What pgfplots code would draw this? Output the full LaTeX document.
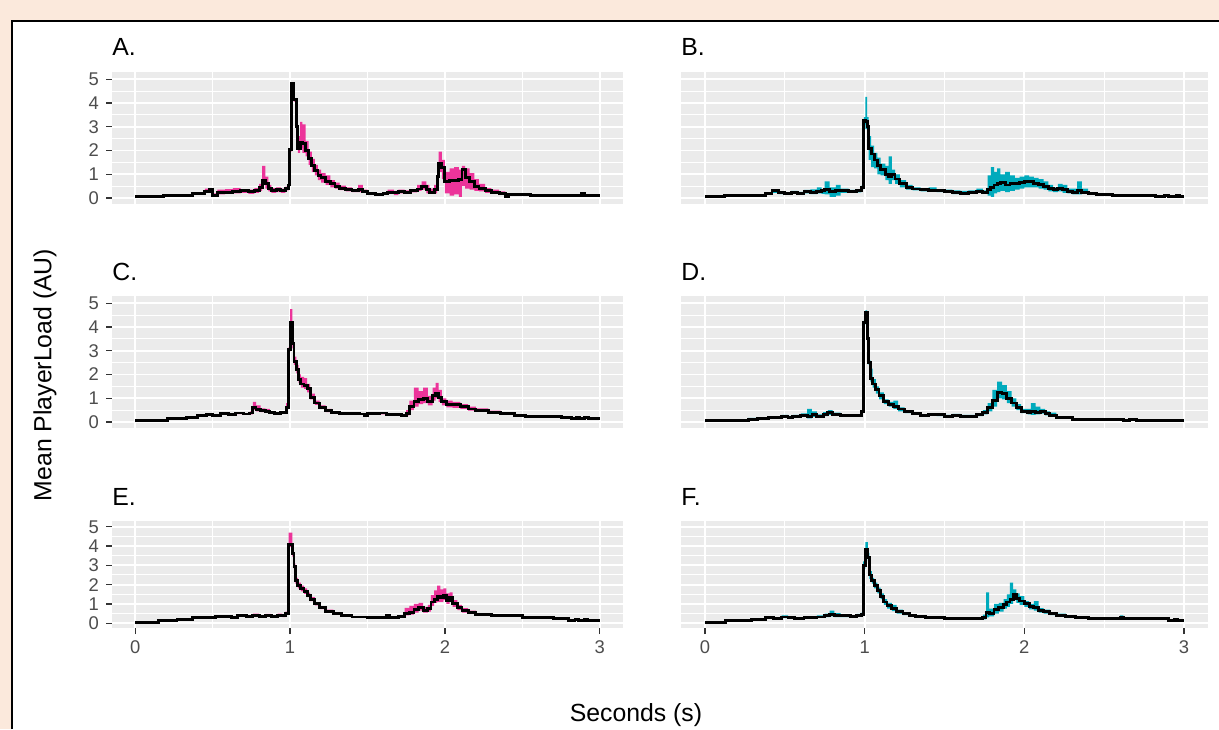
\documentclass[border=0pt]{standalone}
\usepackage{pgfplots}
\pgfplotsset{compat=1.18}
\usepackage{pgfplotstable}
\usepackage{fontspec}
\setmainfont{Liberation Sans}

\definecolor{pagebg}{RGB}{251,233,220}
\definecolor{panelbg}{RGB}{235,235,235}
\definecolor{pinkrib}{RGB}{236,52,154}
\definecolor{cyanrib}{RGB}{0,170,188}
\definecolor{ticktxt}{RGB}{77,77,77}
\definecolor{tickcol}{RGB}{51,51,51}

% x = seconds, m = mean PlayerLoad, lo/hi = ribbon
\pgfplotstableread{
x m lo hi
0.00 0.05 0.04 0.06
0.18 0.12 0.10 0.13
0.37 0.20 0.17 0.22
0.45 0.28 0.22 0.40
0.48 0.35 0.28 0.42
0.50 0.12 0.08 0.20
0.53 0.22 0.15 0.35
0.58 0.25 0.18 0.38
0.63 0.28 0.20 0.42
0.68 0.30 0.22 0.38
0.73 0.26 0.18 0.35
0.77 0.30 0.22 0.42
0.80 0.45 0.30 0.60
0.82 0.72 0.55 1.35
0.84 0.60 0.40 0.90
0.86 0.40 0.28 0.55
0.88 0.30 0.22 0.42
0.91 0.35 0.25 0.45
0.94 0.30 0.22 0.40
0.97 0.40 0.32 0.48
0.99 0.55 0.45 0.65
0.995 2.05 1.95 2.10
1.01 4.80 4.70 4.85
1.025 4.15 4.05 4.20
1.04 3.00 2.90 3.20
1.05 2.10 1.90 2.60
1.065 2.35 2.10 3.20
1.08 2.30 1.90 3.10
1.10 2.00 1.75 2.40
1.12 1.65 1.40 1.95
1.14 1.35 1.10 1.65
1.16 1.15 0.95 1.40
1.18 0.95 0.75 1.20
1.20 0.85 0.65 1.05
1.23 0.70 0.55 0.95
1.26 0.60 0.45 0.75
1.29 0.50 0.40 0.65
1.32 0.42 0.33 0.52
1.36 0.35 0.28 0.45
1.40 0.30 0.25 0.38
1.44 0.35 0.25 0.55
1.47 0.28 0.22 0.35
1.50 0.20 0.15 0.25
1.55 0.15 0.12 0.18
1.60 0.18 0.14 0.22
1.63 0.25 0.18 0.35
1.67 0.22 0.12 0.30
1.70 0.28 0.20 0.35
1.74 0.25 0.18 0.32
1.78 0.30 0.24 0.38
1.82 0.38 0.30 0.55
1.85 0.48 0.35 0.70
1.88 0.35 0.20 0.55
1.90 0.25 0.18 0.40
1.93 0.35 0.20 0.55
1.95 0.90 0.60 1.20
1.96 1.45 1.10 1.95
1.98 1.30 0.80 1.60
2.00 0.70 0.20 1.10
2.03 0.72 0.10 1.25
2.06 0.75 0.15 1.30
2.09 0.78 0.05 1.20
2.11 1.20 0.50 1.35
2.13 0.85 0.40 1.25
2.16 0.70 0.35 1.05
2.19 0.50 0.30 0.80
2.22 0.40 0.28 0.60
2.26 0.30 0.22 0.42
2.30 0.25 0.18 0.35
2.35 0.20 0.15 0.28
2.39 0.08 0.05 0.12
2.41 0.15 0.12 0.18
2.55 0.10 0.08 0.12
2.88 0.20 0.15 0.22
2.90 0.10 0.08 0.12
3.00 0.10 0.08 0.12
}\dataA

\pgfplotstableread{
x m lo hi
0.00 0.05 0.04 0.06
0.12 0.12 0.10 0.13
0.38 0.20 0.16 0.24
0.42 0.30 0.22 0.38
0.46 0.22 0.16 0.28
0.50 0.18 0.14 0.24
0.54 0.24 0.18 0.30
0.58 0.20 0.14 0.26
0.62 0.26 0.20 0.34
0.66 0.22 0.16 0.36
0.70 0.28 0.20 0.45
0.73 0.30 0.18 0.38
0.75 0.35 0.15 0.70
0.78 0.28 0.05 0.45
0.82 0.30 0.10 0.55
0.85 0.32 0.22 0.40
0.90 0.28 0.22 0.34
0.95 0.30 0.24 0.36
0.98 0.45 0.38 0.52
0.995 3.25 3.10 3.40
1.005 3.20 2.90 4.25
1.015 3.00 2.60 3.40
1.025 2.10 1.60 2.60
1.04 1.85 1.30 2.20
1.06 1.60 1.25 1.90
1.08 1.35 1.00 1.70
1.10 1.20 0.95 1.45
1.13 1.00 0.75 1.35
1.15 0.90 0.60 1.75
1.17 1.00 0.75 1.20
1.19 0.80 0.60 1.00
1.22 0.60 0.45 0.75
1.26 0.45 0.35 0.55
1.30 0.38 0.32 0.45
1.35 0.35 0.28 0.42
1.40 0.33 0.27 0.45
1.45 0.30 0.25 0.36
1.50 0.28 0.22 0.35
1.55 0.22 0.16 0.32
1.60 0.20 0.15 0.30
1.65 0.25 0.18 0.32
1.70 0.28 0.22 0.40
1.74 0.25 0.20 0.32
1.77 0.35 0.10 0.95
1.79 0.45 0.05 1.30
1.81 0.55 0.20 1.10
1.83 0.60 0.25 1.25
1.85 0.65 0.30 1.00
1.88 0.55 0.25 1.10
1.91 0.62 0.30 0.95
1.94 0.60 0.35 0.85
1.97 0.65 0.40 0.90
2.00 0.70 0.45 0.95
2.03 0.68 0.45 0.90
2.06 0.62 0.45 0.85
2.09 0.58 0.40 0.80
2.12 0.50 0.35 0.70
2.15 0.40 0.28 0.55
2.18 0.35 0.25 0.45
2.21 0.40 0.28 0.60
2.24 0.35 0.22 0.55
2.27 0.28 0.20 0.40
2.30 0.25 0.15 0.40
2.33 0.30 0.15 0.70
2.36 0.25 0.18 0.40
2.40 0.18 0.14 0.25
2.45 0.15 0.12 0.18
2.55 0.12 0.10 0.15
2.82 0.05 0.04 0.06
2.88 0.10 0.08 0.12
2.90 0.06 0.05 0.07
2.95 0.10 0.08 0.12
2.97 0.07 0.06 0.08
3.00 0.07 0.06 0.08
}\dataB

\pgfplotstableread{
x m lo hi
0.00 0.08 0.06 0.10
0.21 0.15 0.12 0.17
0.33 0.20 0.17 0.24
0.40 0.28 0.24 0.32
0.46 0.32 0.28 0.36
0.50 0.28 0.24 0.32
0.55 0.35 0.30 0.40
0.60 0.32 0.28 0.36
0.65 0.38 0.33 0.42
0.70 0.34 0.30 0.38
0.74 0.38 0.32 0.45
0.76 0.60 0.50 0.85
0.78 0.52 0.45 0.70
0.81 0.48 0.42 0.58
0.84 0.45 0.40 0.55
0.87 0.40 0.35 0.46
0.90 0.35 0.30 0.40
0.94 0.40 0.35 0.45
0.975 0.60 0.55 0.80
0.99 3.05 2.95 3.15
1.00 4.20 4.00 4.75
1.015 3.30 3.10 3.60
1.025 2.55 2.40 2.75
1.04 2.20 2.05 2.40
1.055 1.80 1.65 2.00
1.07 1.60 1.45 1.90
1.09 1.55 1.40 1.85
1.11 1.40 1.25 1.60
1.13 1.05 0.95 1.20
1.16 0.80 0.72 0.90
1.19 0.62 0.55 0.70
1.23 0.48 0.42 0.55
1.27 0.40 0.35 0.45
1.32 0.36 0.32 0.40
1.45 0.34 0.30 0.38
1.48 0.28 0.25 0.32
1.50 0.35 0.30 0.38
1.58 0.38 0.32 0.42
1.62 0.30 0.26 0.34
1.72 0.28 0.24 0.32
1.75 0.35 0.28 0.50
1.77 0.65 0.50 0.90
1.80 0.85 0.65 1.45
1.83 0.95 0.75 1.30
1.86 1.00 0.80 1.45
1.89 0.85 0.70 1.10
1.92 1.10 0.90 1.45
1.94 1.20 1.00 1.65
1.96 1.05 0.85 1.35
1.98 0.85 0.70 1.00
2.01 0.75 0.62 0.90
2.05 0.72 0.60 0.85
2.10 0.65 0.55 0.75
2.15 0.55 0.48 0.65
2.20 0.50 0.44 0.58
2.28 0.42 0.38 0.48
2.36 0.35 0.30 0.40
2.45 0.28 0.25 0.32
2.52 0.25 0.22 0.28
2.75 0.20 0.18 0.22
2.82 0.15 0.13 0.17
2.85 0.20 0.18 0.22
2.87 0.15 0.13 0.17
2.90 0.20 0.18 0.22
2.93 0.15 0.13 0.17
3.00 0.15 0.13 0.17
}\dataC

\pgfplotstableread{
x m lo hi
0.00 0.05 0.04 0.06
0.27 0.12 0.10 0.18
0.33 0.15 0.12 0.20
0.40 0.20 0.16 0.24
0.48 0.25 0.20 0.30
0.52 0.20 0.16 0.26
0.55 0.25 0.20 0.30
0.60 0.28 0.22 0.36
0.64 0.25 0.15 0.55
0.67 0.30 0.22 0.45
0.70 0.25 0.18 0.32
0.74 0.32 0.25 0.42
0.77 0.40 0.30 0.50
0.80 0.32 0.26 0.40
0.85 0.28 0.24 0.32
0.98 0.45 0.40 0.50
0.995 4.20 4.10 4.30
1.005 4.60 4.50 4.70
1.015 3.50 3.40 3.60
1.025 2.50 2.40 2.60
1.035 1.85 1.70 2.25
1.05 1.60 1.45 1.80
1.07 1.35 1.20 1.50
1.09 1.10 0.95 1.25
1.12 0.85 0.75 0.95
1.15 0.75 0.65 0.85
1.18 0.65 0.55 0.90
1.21 0.55 0.45 0.62
1.25 0.45 0.38 0.50
1.30 0.35 0.30 0.40
1.35 0.28 0.22 0.32
1.40 0.32 0.26 0.38
1.45 0.30 0.25 0.35
1.50 0.25 0.20 0.30
1.55 0.28 0.22 0.34
1.60 0.25 0.20 0.30
1.70 0.30 0.25 0.34
1.74 0.40 0.32 0.50
1.77 0.60 0.45 0.80
1.80 0.90 0.65 1.35
1.83 1.25 1.00 1.70
1.86 1.20 0.95 1.55
1.89 1.00 0.80 1.30
1.92 0.80 0.65 1.00
1.95 0.62 0.50 0.75
1.98 0.45 0.38 0.55
2.02 0.40 0.32 0.55
2.04 0.45 0.30 0.80
2.07 0.42 0.32 0.65
2.10 0.45 0.35 0.55
2.13 0.35 0.28 0.45
2.16 0.28 0.22 0.40
2.20 0.20 0.16 0.25
2.30 0.12 0.10 0.14
2.62 0.08 0.06 0.10
2.66 0.12 0.10 0.14
2.70 0.08 0.06 0.10
3.00 0.08 0.06 0.10
}\dataD

\pgfplotstableread{
x m lo hi
0.00 0.05 0.04 0.06
0.15 0.12 0.10 0.14
0.27 0.20 0.18 0.22
0.37 0.28 0.25 0.30
0.52 0.35 0.32 0.38
0.62 0.30 0.27 0.33
0.66 0.38 0.34 0.42
0.72 0.35 0.31 0.40
0.76 0.42 0.36 0.50
0.80 0.36 0.32 0.42
0.84 0.42 0.36 0.48
0.88 0.36 0.32 0.42
0.92 0.42 0.36 0.50
0.95 0.38 0.32 0.45
0.97 0.50 0.45 0.60
0.99 4.10 3.95 4.70
1.015 3.60 3.45 3.80
1.025 2.95 2.80 3.10
1.035 2.20 2.05 2.35
1.05 1.95 1.80 2.10
1.07 1.80 1.65 1.95
1.09 1.65 1.52 1.80
1.11 1.45 1.35 1.58
1.13 1.25 1.15 1.35
1.16 1.00 0.92 1.08
1.19 0.80 0.73 0.88
1.23 0.62 0.56 0.70
1.28 0.48 0.43 0.55
1.33 0.38 0.34 0.42
1.40 0.32 0.29 0.35
1.50 0.30 0.27 0.33
1.62 0.38 0.34 0.42
1.64 0.30 0.27 0.33
1.70 0.35 0.30 0.40
1.74 0.50 0.40 0.80
1.77 0.55 0.45 0.90
1.80 0.70 0.55 1.00
1.83 0.80 0.65 1.05
1.86 0.68 0.55 0.85
1.89 0.75 0.60 0.95
1.91 1.10 0.90 1.45
1.93 1.25 1.05 1.70
1.95 1.40 1.10 1.95
1.97 1.35 1.10 1.75
1.99 1.45 1.20 1.80
2.01 1.20 1.00 1.55
2.03 1.35 1.10 1.60
2.05 1.00 0.85 1.20
2.08 0.80 0.68 0.95
2.11 0.65 0.55 0.78
2.15 0.55 0.48 0.65
2.20 0.45 0.40 0.52
2.30 0.40 0.36 0.44
2.50 0.30 0.27 0.33
2.70 0.25 0.22 0.28
2.80 0.15 0.13 0.17
2.84 0.20 0.18 0.22
2.86 0.15 0.13 0.17
2.90 0.20 0.18 0.22
2.92 0.15 0.13 0.17
2.95 0.12 0.10 0.14
3.00 0.12 0.10 0.14
}\dataE

\pgfplotstableread{
x m lo hi
0.00 0.05 0.04 0.06
0.13 0.12 0.10 0.14
0.29 0.20 0.17 0.23
0.38 0.28 0.24 0.32
0.43 0.22 0.18 0.26
0.48 0.32 0.26 0.40
0.52 0.28 0.24 0.34
0.56 0.22 0.18 0.26
0.62 0.28 0.24 0.32
0.70 0.32 0.27 0.40
0.75 0.40 0.32 0.50
0.78 0.45 0.35 0.65
0.81 0.40 0.32 0.52
0.85 0.38 0.32 0.44
0.91 0.35 0.30 0.40
0.95 0.40 0.35 0.48
0.98 0.45 0.40 0.55
0.99 3.00 2.80 3.20
1.005 3.80 3.55 4.20
1.02 3.40 3.20 3.65
1.03 2.50 2.30 2.70
1.045 2.20 2.05 2.35
1.06 1.95 1.80 2.10
1.08 1.70 1.55 1.85
1.10 1.40 1.25 1.55
1.12 1.10 0.95 1.25
1.14 0.90 0.75 1.05
1.17 0.75 0.62 0.95
1.20 0.60 0.50 0.70
1.24 0.50 0.42 0.58
1.28 0.40 0.35 0.46
1.32 0.35 0.30 0.40
1.38 0.30 0.26 0.34
1.50 0.25 0.22 0.28
1.74 0.30 0.20 0.45
1.76 0.55 0.30 1.60
1.78 0.50 0.35 0.75
1.81 0.70 0.50 1.00
1.84 0.80 0.60 1.05
1.87 0.95 0.75 1.25
1.89 1.10 0.85 1.50
1.91 1.25 1.00 2.10
1.93 1.50 1.20 1.75
1.95 1.30 1.05 1.55
1.97 1.15 0.95 1.40
2.00 1.00 0.85 1.15
2.03 0.85 0.72 1.00
2.06 0.80 0.65 1.15
2.09 0.65 0.55 0.78
2.12 0.60 0.50 0.70
2.16 0.50 0.42 0.58
2.20 0.42 0.36 0.50
2.26 0.35 0.30 0.40
2.32 0.28 0.25 0.32
2.40 0.25 0.22 0.28
2.58 0.22 0.20 0.25
2.60 0.30 0.25 0.40
2.62 0.22 0.20 0.25
2.90 0.12 0.10 0.14
2.94 0.18 0.15 0.20
2.96 0.12 0.10 0.14
3.00 0.12 0.10 0.14
}\dataF

\pgfplotsset{
  panel/.style={
    scale only axis, anchor=south west,
    xmin=-0.15, xmax=3.15, ymin=-0.25, ymax=5.3,
    axis line style={draw=none},
    axis background/.style={fill=panelbg},
    xtick={0,1,2,3}, minor xtick={0.5,1.5,2.5},
    ytick={0,1,2,3,4,5}, minor ytick={0.5,1.5,2.5,3.5,4.5},
    grid=both,
    major grid style={white, line width=0.9pt},
    minor grid style={white, line width=0.5pt},
    tick pos=left,
    tick align=outside, major tick length=3pt, minor tick length=0pt,
    tick style={tickcol, line width=0.6pt},
    ticklabel style={font=\fontsize{9.2}{10}\selectfont, text=ticktxt},
    /pgf/number format/assume math mode=true,
  },
  noxt/.style={xticklabels={}, xtick style={draw=none}},
  noyt/.style={yticklabels={}, ytick style={draw=none}},
}

% ribbon as stacked band (lo, then hi-lo on top), mean line on top
\newcommand{\panelplots}[2]{%
  \addplot[draw=none, const plot, stack plots=y, forget plot] table[x=x, y=lo] {#1};
  \addplot[draw=none, fill=#2, const plot, stack plots=y, forget plot]
    table[x=x, y expr=\thisrow{hi}-\thisrow{lo}] {#1} \closedcycle;
  \addplot[black, line width=1.45pt, const plot] table[x=x, y=m] {#1};
}

\begin{document}
\begin{tikzpicture}
\useasboundingbox (0,0) rectangle (609.5pt,364.5pt);
\fill[pagebg] (0,0) rectangle (609.5pt,364.5pt);
\fill[white] (6pt,0) rectangle (609.5pt,354pt);
\draw[black, line width=1.2pt] (6pt,0) -- (6pt,354pt) -- (609.5pt,354pt);

% row 1
\begin{axis}[panel, noxt, at={(56pt,262.5pt)}, width=255.5pt, height=66pt]
\panelplots{\dataA}{pinkrib}
\end{axis}
\begin{axis}[panel, noxt, noyt, at={(340.5pt,262.5pt)}, width=263.5pt, height=66pt]
\panelplots{\dataB}{cyanrib}
\end{axis}
% row 2
\begin{axis}[panel, noxt, at={(56pt,150.5pt)}, width=255.5pt, height=66pt]
\panelplots{\dataC}{pinkrib}
\end{axis}
\begin{axis}[panel, noxt, noyt, at={(340.5pt,150.5pt)}, width=263.5pt, height=66pt]
\panelplots{\dataD}{cyanrib}
\end{axis}
% row 3
\begin{axis}[panel, at={(56pt,50.5pt)}, width=255.5pt, height=53.5pt]
\panelplots{\dataE}{pinkrib}
\end{axis}
\begin{axis}[panel, noyt, at={(340.5pt,50.5pt)}, width=263.5pt, height=53.5pt]
\panelplots{\dataF}{cyanrib}
\end{axis}

\begin{scope}[every node/.style={font=\fontsize{12.4}{14}\selectfont, inner sep=0pt}]
\node[anchor=west] at (56pt,341pt) {A.};
\node[anchor=west] at (340.5pt,341pt) {B.};
\node[anchor=west] at (56pt,228.5pt) {C.};
\node[anchor=west] at (340.5pt,228.5pt) {D.};
\node[anchor=west] at (56pt,116pt) {E.};
\node[anchor=west] at (340.5pt,116pt) {F.};
\node[rotate=90] at (22.5pt,177pt) {Mean PlayerLoad (AU)};
\node at (318pt,7pt) {Seconds (s)};
\end{scope}
\end{tikzpicture}
\end{document}
